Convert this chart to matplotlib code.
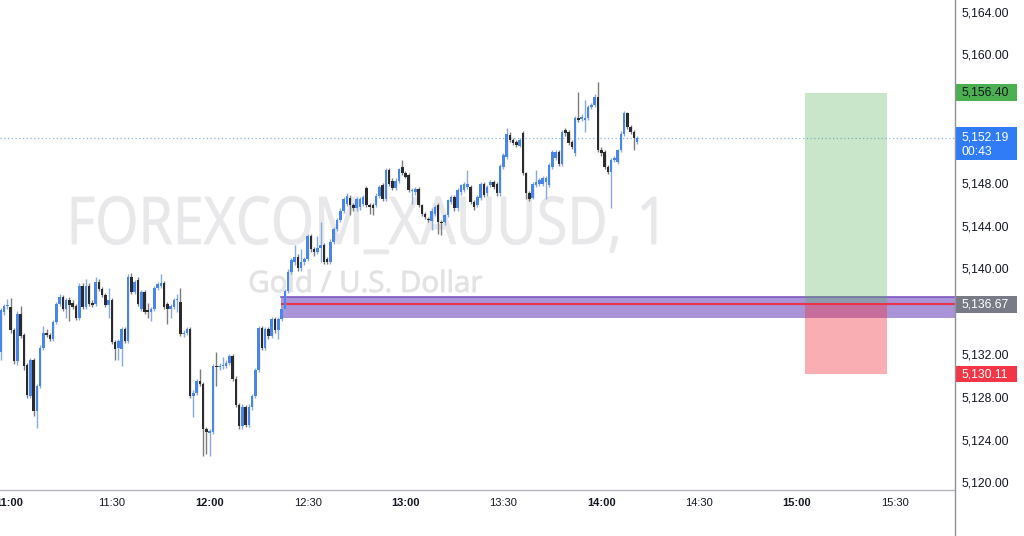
import matplotlib
matplotlib.use("Agg")
import matplotlib.pyplot as plt
import matplotlib.transforms as mtransforms
from matplotlib.patches import Rectangle, PathPatch
from matplotlib.textpath import TextPath
from matplotlib.font_manager import FontProperties
from matplotlib.lines import Line2D

# ---------------- data (1-minute candles, minutes after 11:00) ----------------
first_minute = -4
opens = [
    5132.2, 5135.9, 5136.5, 5136.4, 5134.2, 5131.3, 5135.7, 5133.8, 5131.0, 5128.1,
    5131.4, 5126.7, 5129.0, 5132.6, 5134.0, 5133.8, 5133.4, 5135.0, 5136.7, 5137.3,
    5136.2, 5137.0, 5136.8, 5136.5, 5135.4, 5138.4, 5136.4, 5138.4, 5136.8, 5136.7,
    5138.7, 5138.1, 5137.5, 5136.6, 5137.0, 5133.1, 5132.6, 5132.5, 5134.3, 5133.2,
    5139.2, 5137.8, 5138.9, 5136.2, 5137.8, 5136.1, 5135.9, 5136.2, 5138.2, 5138.4,
    5138.6, 5136.7, 5136.2, 5136.4, 5137.0, 5136.9, 5133.9, 5134.0, 5134.3, 5128.1,
    5128.4, 5129.5, 5129.2, 5125.0, 5124.6, 5124.7, 5130.9, 5130.8, 5130.9, 5130.9,
    5131.2, 5131.8, 5129.7, 5127.2, 5125.3, 5127.0, 5125.4, 5127.0, 5128.1, 5130.5,
    5134.4, 5132.6, 5134.3, 5133.7, 5135.3, 5134.2, 5135.3, 5136.2, 5137.9, 5139.7,
    5140.6, 5141.1, 5140.0, 5140.6, 5140.9, 5143.0, 5141.8, 5141.5, 5141.9, 5142.2,
    5140.9, 5140.6, 5142.5, 5143.7, 5144.5, 5145.4, 5146.0, 5146.6, 5145.9, 5145.6,
    5145.7, 5146.0, 5147.5, 5145.9, 5145.9, 5145.9, 5146.8, 5147.8, 5146.5, 5149.2,
    5148.2, 5147.5, 5148.2, 5149.5, 5148.9, 5148.7, 5147.2, 5147.15, 5147.4, 5145.9,
    5145.1, 5144.6, 5144.4, 5145.1, 5145.9, 5144.3, 5144.3, 5144.96, 5146.2, 5146.68,
    5145.6, 5147.1, 5147.3, 5147.6, 5147.6, 5146.2, 5145.9, 5146.6, 5147.9, 5147.0,
    5147.8, 5148.1, 5147.9, 5147.0, 5149.5, 5150.4, 5152.46, 5151.99, 5151.83, 5151.46,
    5152.61, 5148.87, 5147.0, 5146.6, 5147.77, 5147.93, 5147.93, 5148.09, 5147.77, 5149.49,
    5150.27, 5150.9, 5149.8, 5152.92, 5152.77, 5151.83, 5150.74, 5154.02, 5154.0, 5153.86,
    5154.02, 5155.11, 5155.27, 5156.05, 5151.05, 5150.9, 5149.5, 5149.02, 5150.12, 5149.96,
    5151.05, 5152.6, 5154.48, 5153.24, 5152.77, 5151.83,
]
highs = [
    5136.3, 5136.7, 5137.1, 5137.2, 5134.4, 5136.0, 5136.5, 5134.0, 5131.2, 5131.6,
    5131.6, 5129.2, 5132.8, 5134.6, 5134.3, 5134.0, 5135.2, 5136.9, 5137.6, 5137.5,
    5137.2, 5137.3, 5137.0, 5136.7, 5138.6, 5138.6, 5139.0, 5138.6, 5137.0, 5139.2,
    5139.0, 5138.3, 5137.7, 5138.2, 5137.2, 5133.3, 5133.4, 5134.5, 5134.5, 5139.5,
    5139.6, 5138.9, 5139.2, 5138.0, 5138.0, 5136.8, 5136.4, 5138.4, 5138.7, 5139.5,
    5138.8, 5136.9, 5136.7, 5137.2, 5137.6, 5138.2, 5134.2, 5134.5, 5134.5, 5128.6,
    5129.7, 5130.6, 5129.4, 5125.2, 5125.0, 5131.1, 5132.2, 5131.2, 5131.7, 5131.4,
    5132.0, 5132.0, 5129.9, 5127.4, 5127.3, 5127.2, 5127.3, 5128.3, 5130.7, 5134.6,
    5134.6, 5134.5, 5134.5, 5135.5, 5135.5, 5135.5, 5136.4, 5138.1, 5139.9, 5141.0,
    5142.2, 5141.3, 5141.8, 5141.1, 5143.2, 5143.2, 5142.0, 5143.0, 5144.3, 5142.4,
    5141.1, 5142.7, 5143.9, 5144.7, 5145.6, 5146.7, 5147.0, 5146.9, 5146.1, 5146.7,
    5146.7, 5146.9, 5147.7, 5146.1, 5146.1, 5147.0, 5147.8, 5148.0, 5149.4, 5149.4,
    5148.4, 5148.4, 5149.4, 5150.1, 5149.1, 5148.9, 5147.5, 5147.6, 5147.6, 5146.05,
    5145.3, 5144.8, 5145.6, 5145.9, 5146.1, 5144.5, 5145.1, 5146.5, 5146.9, 5146.9,
    5147.5, 5147.9, 5148.1, 5149.17, 5147.8, 5146.4, 5146.9, 5148.1, 5148.1, 5147.8,
    5148.3, 5148.3, 5148.1, 5149.8, 5150.8, 5153.1, 5152.7, 5152.2, 5152.0, 5152.2,
    5152.8, 5149.0, 5147.2, 5148.1, 5149.18, 5148.4, 5148.6, 5148.6, 5149.85, 5151.1,
    5151.1, 5151.1, 5152.9, 5153.1, 5152.9, 5152.0, 5154.2, 5156.51, 5154.4, 5155.73,
    5155.3, 5155.5, 5156.3, 5157.45, 5151.3, 5151.1, 5149.7, 5150.3, 5150.5, 5151.2,
    5152.8, 5154.7, 5154.6, 5153.4, 5152.9, 5152.4,
]
lows = [
    5131.4, 5135.6, 5136.2, 5134.0, 5131.1, 5131.0, 5133.5, 5130.5, 5127.9, 5127.9,
    5126.2, 5125.1, 5128.8, 5132.4, 5133.6, 5133.2, 5133.2, 5134.8, 5136.5, 5136.0,
    5135.4, 5135.1, 5136.2, 5135.2, 5135.2, 5136.2, 5136.2, 5136.5, 5136.4, 5136.5,
    5137.9, 5137.3, 5136.4, 5135.4, 5132.9, 5131.4, 5131.4, 5130.9, 5133.0, 5133.0,
    5137.6, 5137.6, 5136.5, 5136.0, 5135.7, 5135.4, 5135.1, 5136.0, 5138.0, 5138.2,
    5136.2, 5134.8, 5135.4, 5136.2, 5135.9, 5133.7, 5133.6, 5133.8, 5127.9, 5126.1,
    5128.2, 5129.0, 5122.5, 5122.7, 5122.5, 5124.5, 5129.0, 5130.5, 5130.6, 5130.7,
    5131.0, 5129.5, 5127.0, 5125.0, 5125.0, 5125.2, 5125.2, 5126.8, 5127.9, 5130.3,
    5132.4, 5132.4, 5133.4, 5133.5, 5134.0, 5133.4, 5135.1, 5136.0, 5137.7, 5139.5,
    5140.3, 5139.8, 5139.8, 5140.3, 5140.7, 5141.5, 5141.2, 5141.3, 5140.6, 5140.4,
    5140.4, 5140.4, 5142.3, 5143.5, 5144.3, 5145.2, 5145.8, 5145.0, 5145.4, 5145.4,
    5145.5, 5145.8, 5145.7, 5145.1, 5145.0, 5145.7, 5146.6, 5146.3, 5146.3, 5147.7,
    5147.3, 5147.3, 5148.0, 5148.7, 5148.4, 5147.1, 5146.05, 5146.9, 5145.7, 5144.9,
    5144.6, 5144.3, 5143.56, 5144.9, 5143.24, 5143.1, 5144.1, 5144.8, 5146.0, 5145.4,
    5145.4, 5146.9, 5147.1, 5147.4, 5146.0, 5145.5, 5145.7, 5146.4, 5146.7, 5146.8,
    5147.6, 5147.4, 5146.8, 5146.8, 5149.3, 5150.2, 5151.8, 5151.5, 5151.3, 5151.3,
    5148.7, 5146.5, 5146.3, 5146.5, 5147.6, 5147.7, 5147.7, 5146.53, 5147.6, 5149.3,
    5150.1, 5149.6, 5149.6, 5152.4, 5151.5, 5151.2, 5150.5, 5153.7, 5153.8, 5152.77,
    5153.9, 5154.9, 5155.1, 5150.9, 5150.5, 5149.3, 5148.8, 5145.6, 5149.9, 5149.8,
    5150.9, 5152.4, 5153.0, 5152.6, 5151.05, 5151.6,
]
closes = [
    5136.1, 5136.5, 5136.6, 5134.2, 5131.3, 5135.7, 5133.7, 5130.9, 5128.2, 5131.4,
    5126.7, 5129.0, 5132.6, 5134.0, 5133.8, 5133.4, 5135.0, 5136.7, 5137.3, 5136.2,
    5137.0, 5136.6, 5136.4, 5135.4, 5138.4, 5136.4, 5138.4, 5136.7, 5136.6, 5138.7,
    5138.1, 5137.5, 5136.6, 5137.0, 5133.1, 5132.5, 5133.2, 5134.3, 5133.2, 5139.2,
    5137.8, 5138.7, 5136.7, 5137.8, 5135.9, 5135.9, 5136.2, 5138.2, 5138.5, 5138.6,
    5136.4, 5136.2, 5136.5, 5137.0, 5137.1, 5133.9, 5134.0, 5134.3, 5128.1, 5128.4,
    5129.5, 5129.2, 5125.0, 5124.7, 5124.8, 5130.9, 5130.8, 5130.9, 5131.0, 5131.2,
    5131.8, 5129.7, 5127.2, 5125.3, 5127.0, 5125.4, 5127.0, 5128.1, 5130.5, 5134.4,
    5132.6, 5134.3, 5133.7, 5135.3, 5134.2, 5135.3, 5136.2, 5137.9, 5139.7, 5140.8,
    5141.1, 5140.0, 5140.6, 5140.9, 5143.0, 5141.8, 5141.5, 5141.9, 5142.2, 5140.6,
    5140.6, 5142.5, 5143.7, 5144.5, 5145.4, 5146.5, 5146.8, 5145.9, 5145.6, 5146.5,
    5146.5, 5146.7, 5145.9, 5145.7, 5145.6, 5146.8, 5147.6, 5146.5, 5149.2, 5147.9,
    5147.5, 5148.2, 5149.3, 5148.9, 5148.55, 5147.3, 5147.3, 5147.4, 5145.9, 5145.1,
    5144.8, 5144.5, 5145.4, 5145.74, 5144.3, 5144.2, 5144.96, 5146.37, 5146.68, 5145.6,
    5147.3, 5147.77, 5147.9, 5147.9, 5146.2, 5145.7, 5146.7, 5147.9, 5146.9, 5147.6,
    5148.1, 5147.6, 5147.0, 5149.6, 5150.6, 5152.6, 5151.99, 5151.68, 5151.52, 5151.99,
    5148.87, 5147.0, 5146.53, 5147.93, 5148.09, 5148.24, 5148.4, 5148.4, 5149.65, 5150.9,
    5150.9, 5149.8, 5152.77, 5152.61, 5151.68, 5151.36, 5154.02, 5153.86, 5154.17, 5154.02,
    5155.11, 5155.27, 5156.05, 5151.05, 5150.74, 5149.5, 5149.02, 5150.12, 5150.27, 5151.05,
    5152.6, 5154.48, 5153.24, 5152.77, 5152.14, 5152.19,
]

time_tick_minutes = [0, 30, 60, 90, 120, 150, 180, 210, 240, 270]
time_tick_labels = ["11:00", "11:30", "12:00", "12:30", "13:00", "13:30",
                    "14:00", "14:30", "15:00", "15:30"]
bold_labels = ["11:00", "12:00", "13:00", "14:00", "15:00"]
# scale labels that stay visible (5136, 5152, 5156 are covered by price tags)
price_ticks = [5120, 5124, 5128, 5132, 5140, 5144, 5148, 5160, 5164]

current_price = 5152.19
countdown = "00:43"
entry_price = 5136.67
target_price = 5156.40
stop_price = 5130.11
zone_top, zone_bottom = 5137.30, 5135.33
zone_start_minute = 81.8
position_start_minute, position_end_minute = 242.5, 267.5

symbol_text = "FOREXCOM_XAUUSD, 1"
description_text = "Gold / U.S. Dollar"

# ---------------- figure ----------------
W, H = 1024, 536
fig = plt.figure(figsize=(W / 100, H / 100), dpi=100)
fig.patch.set_facecolor("white")
ax = fig.add_axes([0, (H - 490) / H, 955 / W, 490 / H])
ax.set_facecolor("white")
xmin, xmax = -14 / 3.2625, (955 - 14) / 3.2625
ax.set_xlim(xmin, xmax)
ax.set_ylim(5119.29, 5165.08)

# watermark text scaled to exact extents
def scaled_text(s, x_left, x_right, baseline_top, cap_h, family, color):
    fp = FontProperties(family=family)
    tp = TextPath((0, 0), s, size=100, prop=fp)
    ext = tp.get_extents()
    cap = TextPath((0, 0), "H", size=100, prop=fp).get_extents()
    sx = (x_right - x_left) / ext.width
    sy = cap_h / cap.y1
    tr = (mtransforms.Affine2D().translate(-ext.x0, 0).scale(sx, sy)
          .translate(x_left, H - baseline_top).scale(1 / W, 1 / H) + fig.transFigure)
    ax.add_patch(PathPatch(tp, transform=tr, facecolor=color, edgecolor=color,
                           lw=0.6, zorder=0.5))

scaled_text(symbol_text, 72, 656, 244, 47, "Open Sans", "#e8e8ea")
scaled_text(description_text, 250, 482, 292, 21, "Open Sans", "#e2e2e4")

# zone, position boxes
ax.add_patch(Rectangle((zone_start_minute, zone_bottom), xmax + 5 - zone_start_minute,
                       zone_top - zone_bottom, facecolor="#673ab7", alpha=0.55,
                       edgecolor="none", zorder=1))
ax.plot([zone_start_minute, xmax], [zone_top, zone_top], color="#7e57c2", lw=1.2, zorder=1.1)
ax.add_patch(Rectangle((position_start_minute, entry_price),
                       position_end_minute - position_start_minute,
                       target_price - entry_price, facecolor="#4caf50", alpha=0.3,
                       edgecolor="none", zorder=1.5))
ax.add_patch(Rectangle((position_start_minute, stop_price),
                       position_end_minute - position_start_minute,
                       entry_price - stop_price, facecolor="#f23645", alpha=0.4,
                       edgecolor="none", zorder=1.5))
ax.hlines(entry_price, zone_start_minute, xmax, color="#e8334a", lw=1.5, zorder=1.6)

# current price dotted line
ax.axhline(current_price, color="#8db4dc", lw=0.9, linestyle=(0, (1, 2)), zorder=1.2)

# candles
minutes = list(range(first_minute, first_minute + len(closes)))
up_col, dn_col = "#4a86e8", "#2b2b2e"
body_cols, wick_cols, bottoms, heights = [], [], [], []
for o, c in zip(opens, closes):
    up = c >= o
    body_cols.append(up_col if up else dn_col)
    wick_cols.append("#86abe4" if up else "#7d7d80")
    bottoms.append(min(o, c))
    heights.append(max(abs(c - o), 0.1))
ax.vlines(minutes, lows, highs, colors=wick_cols, lw=1.0, zorder=2.9)
ax.bar(minutes, heights, bottom=bottoms, width=0.78, color=body_cols, linewidth=0, zorder=3)

# axes styling
for s in ["top", "left", "right"]:
    ax.spines[s].set_visible(False)
ax.spines["bottom"].set_color("#b4b7bf")
ax.spines["bottom"].set_linewidth(1.0)
ax.set_xticks(time_tick_minutes)
ax.set_xticklabels(time_tick_labels)
ax.tick_params(axis="x", length=0, pad=6, labelsize=8.0, labelcolor="#131722")
shift_left = mtransforms.ScaledTranslation(-5 / 100, 0, fig.dpi_scale_trans)
for lbl in ax.get_xticklabels():
    lbl.set_fontfamily("Liberation Sans")
    if lbl.get_text() in bold_labels:
        lbl.set_fontweight("bold")
    if lbl.get_text() == time_tick_labels[0]:
        lbl.set_transform(lbl.get_transform() + shift_left)
ax.yaxis.tick_right()
ax.set_yticks(price_ticks)
ax.set_yticklabels([f"{p:,.2f}" for p in price_ticks])
ax.tick_params(axis="y", length=0, pad=5, labelsize=8.7, labelcolor="#131722")
for lbl in ax.get_yticklabels():
    lbl.set_fontfamily("Liberation Sans")

fig.add_artist(Line2D([955 / W, 955 / W], [0, 1], transform=fig.transFigure,
                      color="#8f929a", lw=1.0))

# price labels on the scale
trans = mtransforms.blended_transform_factory(fig.transFigure, ax.transData)
def price_box(price, up_px, down_px, face, texts, tcolor):
    top = price + up_px / 10.7
    bot = price - down_px / 10.7
    ax.add_patch(Rectangle((956 / W, bot), 61 / W, top - bot, transform=trans,
                           facecolor=face, edgecolor="none", clip_on=False, zorder=6))
    for txt, dy in texts:
        ax.text(962 / W, price - dy / 10.7, txt, transform=trans, ha="left",
                va="center", fontsize=8.7, family="Liberation Sans", color=tcolor,
                clip_on=False, zorder=7)

price_box(target_price, 9, 8, "#4caf50", [(f"{target_price:,.2f}", 0)], "#131722")
price_box(current_price, 11, 22, "#2f7cf6", [(f"{current_price:,.2f}", 0),
                                             (countdown, 14)], "white")
price_box(entry_price, 8.5, 8.5, "#787b86", [(f"{entry_price:,.2f}", 0)], "white")
price_box(stop_price, 8, 8, "#f23645", [(f"{stop_price:,.2f}", 0)], "white")

fig.savefig("out.png", dpi=100, facecolor="white")
